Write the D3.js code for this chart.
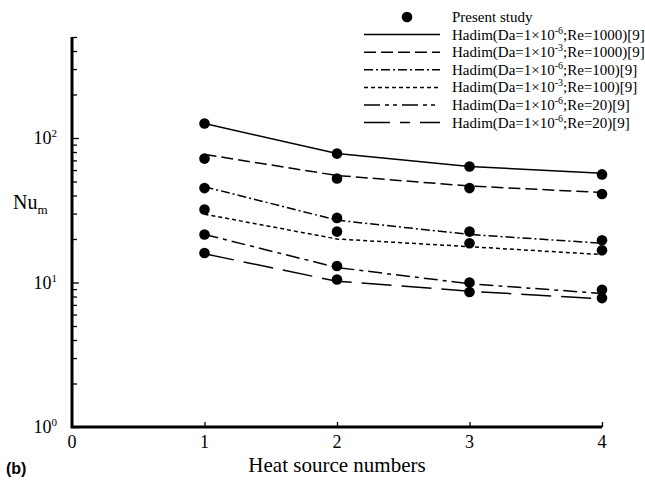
<!DOCTYPE html>
<html>
<head>
<meta charset="utf-8">
<script src="https://cdn.jsdelivr.net/npm/d3@7"></script>
<style>
  body { margin: 0; background: #fff; }
  svg { font-family: "Liberation Serif", "Times New Roman", serif; }
</style>
</head>
<body>
<svg id="chart" width="645" height="481"></svg>
<script>
// data
const heatSources = [1, 2, 3, 4];

const presentStudy = [
  [126, 72, 45, 32, 21.5, 16],
  [78, 52.5, 28, 22.5, 13, 10.5],
  [63.5, 45, 22.5, 18.7, 10, 8.6],
  [56, 41, 19.6, 16.7, 8.9, 7.8]
];

const hadimLabels = [
  ["-6", "1000"], ["-3", "1000"], ["-6", "100"],
  ["-3", "100"], ["-6", "20"], ["-6", "20"]
];
const hadim1e6Re1000 = [126, 78, 63.5, 57];
const hadim1e3Re1000 = [77, 55, 46.5, 42];
const hadim1e6Re100 = [46, 27, 21.5, 18.7];
const hadim1e3Re100 = [29.7, 20, 17.7, 15.6];
const hadim1e6Re20a = [21.5, 12.7, 9.8, 8.4];
const hadim1e6Re20b = [15.8, 10.2, 8.7, 7.7];

const hadimSeries = [hadim1e6Re1000, hadim1e3Re1000, hadim1e6Re100,
                     hadim1e3Re100, hadim1e6Re20a, hadim1e6Re20b];
const dashes = [null, "12,5", "9,3,2,3", "4,3", "14,5,4,5", "30,10"];
const legendDashes = [null, "12,5", "9,3,2,3", "4,3", "16,5,4,4,4,5", "26,10,10,10"];

const xTicks = [0, 1, 2, 3, 4];
const yMajor = [1, 10, 100];
const yMinor = [2,3,4,5,6,7,8,9,20,30,40,50,60,70,80,90,200,300,400,500];

const svg = d3.select("#chart");

const x = d3.scaleLinear().domain([0, 4]).range([72, 602]);
const y = d3.scaleLog().domain([1, 500]).range([427, 37]);

// Y axis (ticks point inward)
svg.append("g")
  .attr("transform", "translate(72,0)")
  .call(d3.axisLeft(y).tickValues(yMinor).tickSize(-5).tickFormat(""))
  .call(g => g.select(".domain").remove())
  .selectAll("line").attr("stroke", "#000").attr("stroke-width", 1.3);

svg.append("g")
  .attr("transform", "translate(72,0)")
  .call(d3.axisLeft(y).tickValues(yMajor).tickSize(-7).tickFormat(""))
  .call(g => g.select(".domain").remove())
  .selectAll("line").attr("stroke", "#000").attr("stroke-width", 1.3);

// X axis
svg.append("g")
  .attr("transform", "translate(0,427)")
  .call(d3.axisBottom(x).tickValues([1, 2, 3, 4]).tickSize(-5).tickFormat(""))
  .call(g => g.select(".domain").remove())
  .selectAll("line").attr("stroke", "#000").attr("stroke-width", 1.3);

svg.append("path")
  .attr("d", `M${x(0)},${y(500)}V${y(1)}H${x(4)}`)
  .attr("fill", "none")
  .attr("stroke", "#000")
  .attr("stroke-width", 3);

// tick labels
svg.selectAll(".xlab")
  .data(xTicks)
  .join("text")
  .attr("x", d => x(d))
  .attr("y", 448)
  .attr("text-anchor", "middle")
  .style("font-size", "18px")
  .text(d => d);

yMajor.forEach((v, i) => {
  const t = svg.append("text")
    .attr("x", 57)
    .attr("y", y(v) + 6)
    .attr("text-anchor", "end")
    .style("font-size", "18px");
  t.append("tspan").text("10");
  t.append("tspan").attr("dy", -7).style("font-size", "11px").text(i);
});

// axis titles
const nu = svg.append("text")
  .attr("x", 13)
  .attr("y", 209)
  .style("font-size", "20px");
nu.append("tspan").text("Nu");
nu.append("tspan").attr("dy", 5).style("font-size", "13px").text("m");

svg.append("text")
  .attr("x", (x(0) + x(4)) / 2)
  .attr("y", 472)
  .attr("text-anchor", "middle")
  .style("font-size", "21px")
  .text("Heat source numbers");

svg.append("text")
  .attr("x", 6)
  .attr("y", 474)
  .style("font-family", "'Liberation Sans', Arial, sans-serif")
  .style("font-weight", "bold")
  .style("font-size", "16px")
  .text("(b)");

// Hadim lines
const line = d3.line()
  .x((d, i) => x(heatSources[i]))
  .y(d => y(d));

svg.selectAll(".hadim")
  .data(hadimSeries)
  .join("path")
  .attr("d", line)
  .attr("fill", "none")
  .attr("stroke", "#000")
  .attr("stroke-width", 1.5)
  .attr("stroke-dasharray", (d, i) => dashes[i]);

// present study points
heatSources.forEach((h, i) => {
  svg.selectAll(null)
    .data(presentStudy[i])
    .join("circle")
    .attr("cx", x(h))
    .attr("cy", d => y(d))
    .attr("r", 5.3)
    .attr("fill", "#000");
});

// legend
const lg = svg.append("g").style("font-size", "15px");
const row0 = 17, rowH = 17.6;

lg.append("circle").attr("cx", 407).attr("cy", row0).attr("r", 5.3).attr("fill", "#000");
lg.append("text").attr("x", 452).attr("y", row0 + 5).text("Present study");

hadimLabels.forEach((lab, i) => {
  const yy = row0 + rowH * (i + 1);
  lg.append("line")
    .attr("x1", 364).attr("x2", 440)
    .attr("y1", yy).attr("y2", yy)
    .attr("stroke", "#000")
    .attr("stroke-width", 1.5)
    .attr("stroke-dasharray", legendDashes[i]);
  const t = lg.append("text").attr("x", 452).attr("y", yy + 5);
  t.append("tspan").text("Hadim(Da=1×10");
  t.append("tspan").attr("dy", -6).style("font-size", "10px").text(lab[0]);
  t.append("tspan").attr("dy", 6).text(";Re=" + lab[1] + ")[9]");
});
</script>
</body>
</html>
